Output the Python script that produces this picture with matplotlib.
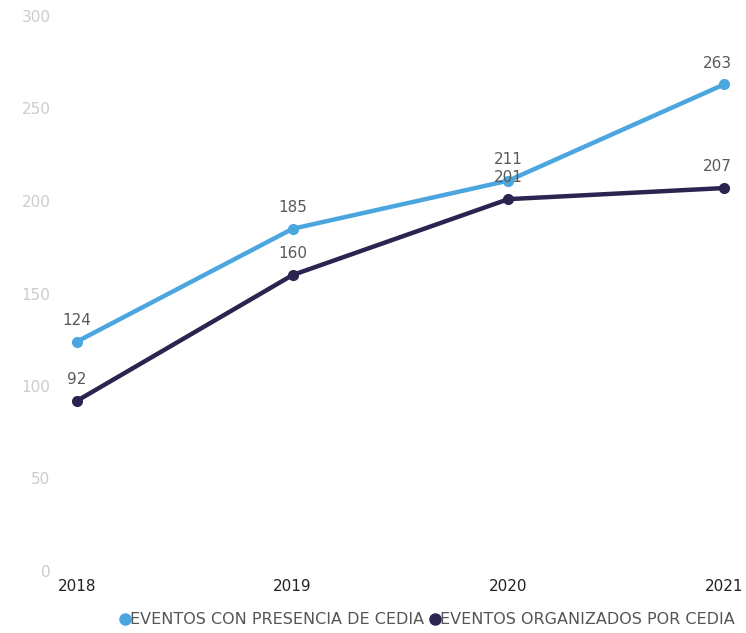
import matplotlib
matplotlib.use("Agg")
import matplotlib.pyplot as plt
from matplotlib.lines import Line2D

years = ["2018", "2019", "2020", "2021"]
presencia = [124, 185, 211, 263]
organizados = [92, 160, 201, 207]
series_names = ["EVENTOS CON PRESENCIA DE CEDIA", "EVENTOS ORGANIZADOS POR CEDIA"]
colors = ["#4BA6E0", "#2A2450"]
yticks = [0, 50, 100, 150, 200, 250, 300]

plt.rcParams['font.family'] = ['DejaVu Sans']
fig = plt.figure(figsize=(7.46, 6.33), dpi=100)
ax = fig.add_axes([77/746, 62/633, (724-77)/746, (571-16)/633])

x = list(range(len(years)))
for vals, c in zip([presencia, organizados], colors):
    ax.plot(x, vals, color=c, lw=3.2, marker='o', ms=7, clip_on=False, zorder=3)
    for xi, v in zip(x, vals):
        dx = -5 if xi == len(x) - 1 else 0
        ax.annotate(str(v), (xi, v), xytext=(dx, 10), textcoords='offset points',
                    ha='center', va='bottom', fontsize=11, color='#595959', zorder=4)

ax.set_xlim(0, 3)
ax.set_ylim(0, 300)
ax.set_xticks(x)
ax.set_xticklabels(years, fontsize=11, color='#222222')
ax.set_yticks(yticks)
ax.set_yticklabels([str(t) for t in yticks], fontsize=11, color='#CCCCCC')
ax.tick_params(axis='both', length=0)
ax.tick_params(axis='y', pad=19)
ax.tick_params(axis='x', pad=6)
for s in ax.spines.values():
    s.set_visible(False)

handles = [Line2D([], [], color=c, marker='o', ls='none', ms=8) for c in colors]
fig.legend(handles, series_names, loc='center', bbox_to_anchor=(426/746, 1 - 620/633),
           ncol=2, frameon=False, handletextpad=-0.2, columnspacing=0.2,
           fontsize=11.5, labelcolor='#555555', handlelength=1.0)

fig.savefig("out.png", dpi=100)
